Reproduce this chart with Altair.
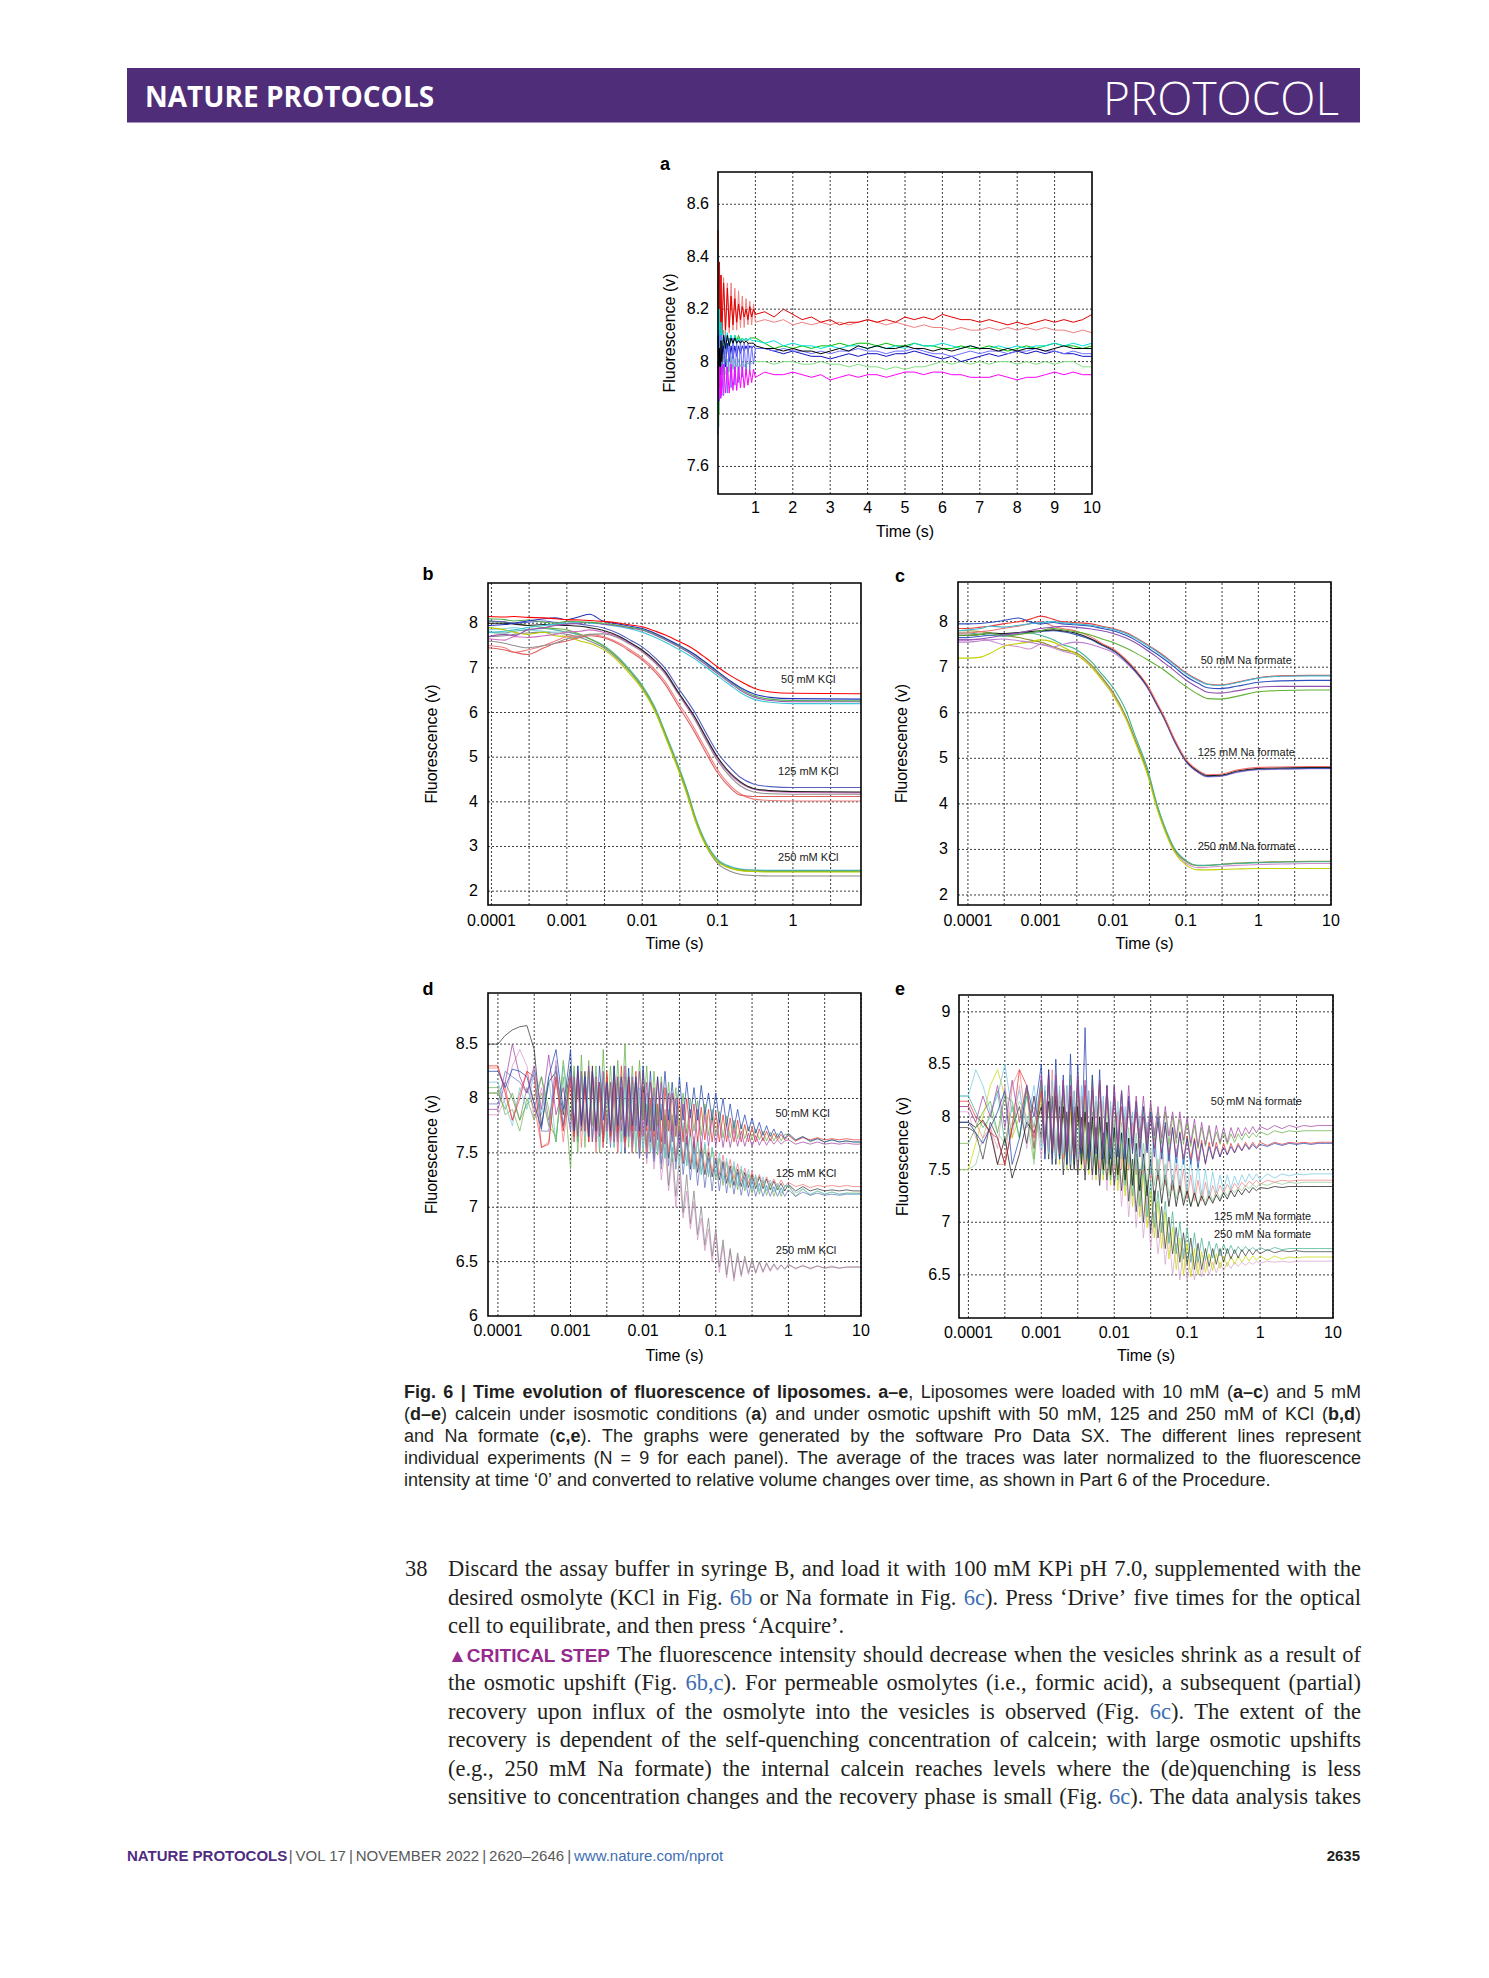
import math
import altair as alt
import pandas as pd

OFF = 8  # page margin: view origin sits at page (8, 8)
SANS = "Liberation Sans, Arial, Helvetica, sans-serif"
SERIF = "Liberation Serif, Times New Roman, serif"
HEAD = "Open Sans, Liberation Sans, sans-serif"

# ======================= panel a (isosmotic, linear time) =======================
TA = [0, 0.02, 0.04, 0.06, 0.08, 0.1, 0.15, 0.2, 0.25, 0.3, 0.35, 0.4, 0.45, 0.5, 0.55, 0.6, 0.65, 0.7, 0.75, 0.8, 0.85, 0.9, 0.95, 1.0,
      1.25, 1.5, 1.75, 2.0, 2.25, 2.5, 2.75, 3.0, 3.25, 3.5, 3.75, 4.0, 4.25, 4.5, 4.75, 5.0, 5.25, 5.5, 5.75, 6.0,
      6.25, 6.5, 6.75, 7.0, 7.25, 7.5, 7.75, 8.0, 8.25, 8.5, 8.75, 9.0, 9.25, 9.5, 9.75, 10.0]
A_SALMON = [8.3, 8.0, 8.35, 8.1, 8.33, 8.1, 8.32, 8.1, 8.3, 8.11, 8.3, 8.12, 8.28, 8.12, 8.27, 8.13, 8.25, 8.13, 8.24, 8.14, 8.23, 8.14, 8.22, 8.15,
            8.16, 8.15, 8.16, 8.14, 8.15, 8.14, 8.15, 8.14, 8.15, 8.14, 8.15, 8.16, 8.15, 8.14, 8.15, 8.14, 8.13, 8.14, 8.13, 8.13,
            8.12, 8.13, 8.12, 8.12, 8.13, 8.12, 8.13, 8.12, 8.13, 8.12, 8.13, 8.12, 8.12, 8.11, 8.12, 8.11]
A_RED = [8.5, 7.95, 8.38, 8.05, 8.33, 8.1, 8.3, 8.12, 8.28, 8.13, 8.25, 8.14, 8.24, 8.15, 8.22, 8.16, 8.21, 8.17, 8.2, 8.16, 8.21, 8.17, 8.2, 8.18,
         8.19, 8.17, 8.2, 8.18, 8.16, 8.17, 8.15, 8.16, 8.14, 8.15, 8.15, 8.16, 8.15, 8.16, 8.15, 8.17, 8.16, 8.17, 8.16, 8.18,
         8.17, 8.16, 8.16, 8.15, 8.16, 8.15, 8.14, 8.15, 8.14, 8.15, 8.16, 8.15, 8.16, 8.15, 8.16, 8.18]
A_LGREEN = [7.95, 7.75, 8.02, 7.9, 8.0, 7.93, 8.02, 7.95, 8.01, 7.96, 8.02, 7.97, 8.01, 7.98, 8.01, 7.98, 8.0, 7.98, 8.0, 7.99, 8.0, 7.99, 8.0, 8.0,
            8.0, 7.99, 8.0, 8.0, 7.99, 7.99, 8.0, 7.99, 7.99, 7.98, 7.99, 7.98, 7.98, 7.97, 7.98, 7.97, 7.98, 7.98, 7.99, 8.0,
            7.99, 8.0, 7.99, 8.0, 7.99, 8.0, 8.0, 7.99, 8.0, 7.99, 8.0, 7.99, 8.0, 8.0, 7.98, 7.98]
A_GREEN = [8.3, 7.8, 8.15, 7.95, 8.12, 8.0, 8.1, 8.04, 8.1, 8.06, 8.1, 8.07, 8.1, 8.08, 8.1, 8.08, 8.09, 8.08, 8.09, 8.08, 8.09, 8.09, 8.09, 8.09,
           8.07, 8.05, 8.06, 8.05, 8.06, 8.05, 8.06, 8.06, 8.07, 8.06, 8.07, 8.07, 8.06, 8.07, 8.06, 8.06, 8.07, 8.06, 8.06, 8.05,
           8.05, 8.06, 8.05, 8.05, 8.06, 8.05, 8.04, 8.05, 8.06, 8.05, 8.06, 8.07, 8.06, 8.06, 8.05, 8.06]
A_CYAN = [8.42, 7.85, 8.2, 7.95, 8.15, 8.0, 8.12, 8.03, 8.11, 8.05, 8.1, 8.06, 8.1, 8.07, 8.09, 8.07, 8.09, 8.08, 8.09, 8.08, 8.09, 8.08, 8.08, 8.08,
          8.07, 8.08, 8.06, 8.07, 8.06, 8.06, 8.05, 8.06, 8.05, 8.06, 8.06, 8.05, 8.06, 8.05, 8.06, 8.05, 8.07, 8.06, 8.06, 8.07,
          8.06, 8.05, 8.06, 8.05, 8.05, 8.06, 8.05, 8.06, 8.05, 8.06, 8.06, 8.07, 8.06, 8.07, 8.06, 8.07]
A_BLUE = [8.0, 7.85, 8.05, 7.9, 8.05, 7.95, 8.06, 7.98, 8.07, 8.0, 8.06, 8.01, 8.06, 8.02, 8.06, 8.03, 8.06, 8.04, 8.06, 8.04, 8.06, 8.05, 8.06, 8.05,
          8.05, 8.04, 8.03, 8.04, 8.03, 8.02, 8.02, 8.01, 8.02, 8.03, 8.02, 8.03, 8.03, 8.02, 8.03, 8.03, 8.04, 8.03, 8.02, 8.01,
          8.02, 8.0, 8.01, 8.02, 8.03, 8.02, 8.03, 8.04, 8.03, 8.04, 8.03, 8.04, 8.03, 8.03, 8.02, 8.02]
A_PERI = [7.72, 8.12, 7.85, 8.1, 7.86, 8.1, 7.87, 8.1, 7.88, 8.09, 7.9, 8.09, 7.91, 8.08, 7.92, 8.08, 7.94, 8.07, 7.95, 8.07, 7.97, 8.06, 7.99, 8.05,
          8.05, 8.04, 8.05, 8.04, 8.04, 8.03, 8.04, 8.03, 8.04, 8.04, 8.05, 8.04, 8.04, 8.03, 8.04, 8.04, 8.05, 8.04, 8.03, 8.03,
          8.02, 8.03, 8.04, 8.03, 8.04, 8.04, 8.03, 8.04, 8.04, 8.05, 8.04, 8.04, 8.03, 8.04, 8.03, 8.03]
A_BLACK = [8.1, 7.9, 8.05, 7.95, 8.08, 8.0, 8.1, 8.05, 8.1, 8.06, 8.09, 8.07, 8.09, 8.07, 8.08, 8.07, 8.08, 8.07, 8.08, 8.07, 8.07, 8.07, 8.07, 8.06,
           8.05, 8.05, 8.04, 8.05, 8.04, 8.04, 8.03, 8.04, 8.05, 8.04, 8.06, 8.05, 8.06, 8.05, 8.05, 8.06, 8.05, 8.05, 8.04, 8.05,
           8.04, 8.05, 8.06, 8.05, 8.05, 8.04, 8.05, 8.04, 8.05, 8.05, 8.04, 8.05, 8.06, 8.05, 8.05, 8.05]
A_MAGENTA = [7.9, 7.85, 7.98, 7.86, 7.98, 7.87, 7.99, 7.88, 7.98, 7.88, 7.99, 7.89, 7.98, 7.89, 7.98, 7.9, 7.98, 7.9, 7.97, 7.91, 7.97, 7.92, 7.97, 7.94,
             7.96, 7.95, 7.95, 7.96, 7.95, 7.94, 7.95, 7.93, 7.94, 7.95, 7.94, 7.95, 7.95, 7.94, 7.95, 7.96, 7.96, 7.95, 7.96, 7.96,
             7.95, 7.95, 7.94, 7.94, 7.94, 7.95, 7.94, 7.93, 7.94, 7.94, 7.95, 7.96, 7.95, 7.96, 7.95, 7.95]

# ======================= panel b (KCl, 10 mM calcein) =======================
TB = [0.00009, 0.00015, 0.0002, 0.0003, 0.0005, 0.0007, 0.001, 0.0015, 0.002, 0.003, 0.005, 0.007, 0.01,
      0.015, 0.02, 0.03, 0.04, 0.05, 0.07, 0.1, 0.15, 0.2, 0.3, 0.5, 1, 8]
B250_GRAY = [7.7, 7.72, 7.75, 7.78, 7.8, 7.78, 7.75, 7.68, 7.6, 7.46, 7.16, 6.9, 6.56, 6.04, 5.52, 4.76, 4.16, 3.62, 3.02, 2.62, 2.44, 2.38, 2.35, 2.34, 2.34, 2.34]
B250_LCYAN = [7.85, 7.88, 7.9, 7.85, 7.82, 7.8, 7.8, 7.72, 7.65, 7.52, 7.22, 6.95, 6.62, 6.1, 5.58, 4.83, 4.24, 3.7, 3.1, 2.72, 2.55, 2.5, 2.48, 2.47, 2.47, 2.47]
B250_TEAL = [7.8, 7.78, 7.82, 7.85, 7.88, 7.85, 7.8, 7.74, 7.66, 7.5, 7.2, 6.92, 6.6, 6.08, 5.56, 4.8, 4.22, 3.68, 3.08, 2.7, 2.54, 2.49, 2.47, 2.46, 2.46, 2.46]
B250_GREEN = [8.05, 8.02, 8.0, 7.95, 7.9, 7.88, 7.85, 7.75, 7.65, 7.5, 7.19, 6.92, 6.58, 6.06, 5.54, 4.79, 4.2, 3.66, 3.06, 2.68, 2.52, 2.47, 2.45, 2.44, 2.44, 2.44]
B250_YELLOW = [7.9, 7.85, 7.8, 7.75, 7.8, 7.72, 7.7, 7.6, 7.55, 7.42, 7.12, 6.85, 6.52, 6.0, 5.48, 4.72, 4.12, 3.6, 3.02, 2.66, 2.51, 2.46, 2.44, 2.43, 2.43, 2.43]
B125_PINK = [7.5, 7.45, 7.35, 7.4, 7.5, 7.6, 7.7, 7.72, 7.75, 7.7, 7.55, 7.4, 7.22, 6.95, 6.7, 6.22, 5.9, 5.62, 5.18, 4.72, 4.35, 4.18, 4.06, 4.03, 4.02, 4.02]
B125_RED = [7.45, 7.4, 7.35, 7.3, 7.45, 7.55, 7.6, 7.68, 7.72, 7.68, 7.52, 7.36, 7.18, 6.9, 6.64, 6.15, 5.82, 5.55, 5.1, 4.65, 4.3, 4.15, 4.12, 4.12, 4.12, 4.12]
B125_GRAY = [7.6, 7.55, 7.5, 7.45, 7.5, 7.55, 7.65, 7.7, 7.75, 7.76, 7.66, 7.52, 7.36, 7.1, 6.87, 6.42, 6.1, 5.84, 5.38, 4.92, 4.55, 4.36, 4.22, 4.18, 4.17, 4.17]
B125_ORCHID = [7.65, 7.62, 7.7, 7.68, 7.72, 7.75, 7.8, 7.82, 7.85, 7.8, 7.68, 7.54, 7.38, 7.12, 6.9, 6.44, 6.12, 5.87, 5.42, 4.96, 4.6, 4.42, 4.28, 4.23, 4.21, 4.2]
B125_SLATE = [8.05, 8.03, 8.0, 8.02, 8.05, 8.02, 8.0, 7.98, 7.95, 7.9, 7.76, 7.62, 7.47, 7.22, 7.0, 6.55, 6.25, 6.0, 5.55, 5.1, 4.75, 4.55, 4.4, 4.34, 4.32, 4.32]
B125_BLACK = [8.0, 8.0, 7.98, 7.95, 7.97, 7.96, 7.95, 7.93, 7.9, 7.84, 7.7, 7.56, 7.4, 7.15, 6.92, 6.46, 6.15, 5.9, 5.45, 5.0, 4.63, 4.45, 4.3, 4.25, 4.23, 4.22]
B50_CYAN = [7.8, 7.82, 7.85, 7.9, 7.95, 7.98, 8.0, 8.02, 8.0, 7.98, 7.92, 7.87, 7.8, 7.68, 7.58, 7.42, 7.3, 7.2, 7.02, 6.82, 6.6, 6.45, 6.3, 6.23, 6.2, 6.2]
B50_PURPLE = [7.7, 7.75, 7.72, 7.85, 7.9, 7.95, 7.98, 8.0, 8.02, 7.98, 7.94, 7.89, 7.84, 7.73, 7.63, 7.48, 7.36, 7.25, 7.07, 6.87, 6.65, 6.5, 6.35, 6.27, 6.24, 6.24]
B50_GREEN = [8.1, 8.08, 8.05, 8.07, 8.02, 8.0, 8.04, 8.03, 8.02, 8.0, 7.95, 7.9, 7.86, 7.75, 7.65, 7.5, 7.38, 7.28, 7.1, 6.9, 6.68, 6.53, 6.38, 6.3, 6.27, 6.26]
B50_BLUE = [7.95, 7.97, 8.0, 8.05, 8.1, 8.12, 8.08, 8.15, 8.2, 8.05, 7.98, 7.93, 7.88, 7.77, 7.67, 7.52, 7.4, 7.3, 7.12, 6.92, 6.7, 6.56, 6.42, 6.34, 6.31, 6.3]
B50_RED = [8.15, 8.14, 8.15, 8.13, 8.12, 8.1, 8.08, 8.07, 8.06, 8.04, 8.0, 7.96, 7.92, 7.82, 7.74, 7.6, 7.5, 7.4, 7.22, 7.02, 6.82, 6.7, 6.55, 6.46, 6.43, 6.42]

# ======================= panel c (Na formate, 10 mM calcein) =======================
TC = [0.000073, 0.0001, 0.00015, 0.0002, 0.0003, 0.0005, 0.0007, 0.001, 0.0015, 0.002, 0.003, 0.005, 0.007, 0.01, 0.015,
      0.02, 0.03, 0.04, 0.05, 0.07, 0.1, 0.15, 0.2, 0.3, 0.5, 1, 2, 5, 10]
C250_PV = [7.6, 7.6, 7.62, 7.58, 7.5, 7.45, 7.4, 7.5, 7.42, 7.35, 7.28, 7.02, 6.75, 6.42, 5.9, 5.4, 4.66, 3.93, 3.48, 2.97, 2.7, 2.6, 2.61, 2.63, 2.65, 2.67, 2.68, 2.69, 2.69]
C250_OLIVE = [7.8, 7.8, 7.78, 7.75, 7.7, 7.65, 7.6, 7.55, 7.45, 7.38, 7.32, 7.05, 6.78, 6.45, 5.92, 5.42, 4.68, 3.95, 3.5, 2.99, 2.74, 2.64, 2.65, 2.67, 2.7, 2.72, 2.73, 2.74, 2.74]
C250_TEAL = [7.75, 7.75, 7.72, 7.7, 7.68, 7.72, 7.75, 7.7, 7.6, 7.5, 7.4, 7.12, 6.85, 6.55, 6.05, 5.5, 4.75, 4.0, 3.55, 3.02, 2.76, 2.65, 2.65, 2.67, 2.69, 2.71, 2.72, 2.73, 2.73]
C250_YELLOW = [7.2, 7.2, 7.22, 7.3, 7.45, 7.52, 7.55, 7.6, 7.55, 7.45, 7.3, 7.0, 6.72, 6.38, 5.86, 5.36, 4.62, 3.9, 3.46, 2.94, 2.66, 2.55, 2.55, 2.56, 2.57, 2.58, 2.58, 2.58, 2.58]
C125_VIOLET = [7.55, 7.55, 7.58, 7.6, 7.62, 7.58, 7.55, 7.5, 7.45, 7.5, 7.55, 7.5, 7.42, 7.32, 7.1, 6.9, 6.53, 6.16, 5.87, 5.36, 4.93, 4.68, 4.59, 4.6, 4.69, 4.75, 4.76, 4.77, 4.77]
C125_BLUE = [7.65, 7.65, 7.68, 7.7, 7.72, 7.75, 7.76, 7.78, 7.8, 7.78, 7.72, 7.6, 7.48, 7.36, 7.13, 6.92, 6.55, 6.18, 5.89, 5.38, 4.94, 4.69, 4.6, 4.61, 4.7, 4.76, 4.77, 4.78, 4.78]
C125_BLACK = [7.7, 7.7, 7.72, 7.75, 7.74, 7.76, 7.78, 7.8, 7.82, 7.8, 7.75, 7.62, 7.5, 7.38, 7.15, 6.94, 6.57, 6.2, 5.91, 5.4, 4.96, 4.71, 4.62, 4.63, 4.72, 4.78, 4.79, 4.8, 4.8]
C125_PINK = [7.75, 7.75, 7.78, 7.8, 7.85, 7.9, 7.95, 8.0, 7.9, 7.85, 7.8, 7.66, 7.52, 7.4, 7.17, 6.96, 6.59, 6.22, 5.93, 5.42, 4.98, 4.73, 4.64, 4.65, 4.74, 4.8, 4.81, 4.82, 4.82]
C50_GREEN = [7.7, 7.7, 7.72, 7.75, 7.7, 7.72, 7.75, 7.8, 7.85, 7.82, 7.78, 7.7, 7.62, 7.54, 7.42, 7.32, 7.16, 7.04, 6.94, 6.76, 6.58, 6.4, 6.31, 6.3, 6.36, 6.46, 6.49, 6.5, 6.5]
C50_PURPLE = [7.6, 7.6, 7.62, 7.65, 7.7, 7.75, 7.8, 7.85, 7.88, 7.9, 7.88, 7.84, 7.8, 7.74, 7.64, 7.54, 7.36, 7.22, 7.1, 6.92, 6.72, 6.55, 6.45, 6.43, 6.48, 6.56, 6.58, 6.58, 6.58]
C50_BLUE = [7.95, 7.95, 7.96, 7.98, 8.02, 8.08, 8.0, 7.95, 7.98, 7.95, 7.93, 7.9, 7.85, 7.8, 7.7, 7.6, 7.42, 7.29, 7.18, 7.0, 6.8, 6.64, 6.55, 6.53, 6.58, 6.67, 6.7, 6.71, 6.71]
C50_RED = [7.85, 7.85, 7.88, 7.9, 7.95, 8.0, 8.05, 8.12, 8.05, 8.0, 7.98, 7.95, 7.9, 7.85, 7.76, 7.66, 7.49, 7.36, 7.25, 7.07, 6.88, 6.72, 6.63, 6.61, 6.67, 6.77, 6.81, 6.82, 6.82]
C50_CYAN = [7.8, 7.82, 7.85, 7.9, 7.88, 7.92, 7.95, 7.98, 8.0, 7.98, 7.95, 7.92, 7.88, 7.83, 7.74, 7.64, 7.47, 7.34, 7.23, 7.05, 6.86, 6.7, 6.62, 6.6, 6.66, 6.76, 6.8, 6.81, 6.81]

# ======================= panels d, e (5 mM calcein, noisy) =======================
TD = [0.000073, 0.0001, 0.000126, 0.000158, 0.0002, 0.000251, 0.000316, 0.000398, 0.000501, 0.000631, 0.000794,
      0.001, 0.00112, 0.00126, 0.00141, 0.00158, 0.00178, 0.002, 0.00224, 0.00251, 0.00282,
      0.00316, 0.00355, 0.00398, 0.00447, 0.00501, 0.00562, 0.00631, 0.00708, 0.00794, 0.00891,
      0.01, 0.0112, 0.0126, 0.0141, 0.0158, 0.0178, 0.02, 0.0224, 0.0251, 0.0282,
      0.0316, 0.0355, 0.0398, 0.0447, 0.0501, 0.0562, 0.0631, 0.0708, 0.0794, 0.0891,
      0.1, 0.112, 0.126, 0.141, 0.158, 0.178, 0.2, 0.224, 0.251, 0.282,
      0.316, 0.355, 0.398, 0.447, 0.501, 0.562, 0.631, 0.708, 0.794, 0.891,
      1, 1.26, 1.58, 2, 2.51, 3.16, 3.98, 5.01, 6.31, 7.94, 10]
TE = [0.0000743] + TD[1:]

D250_PINK = ([7.85, 7.85, 8.0, 8.3, 8.45, 8.3, 7.8, 8.1, 7.75, 8.35, 7.7]
             + [8.25, 7.65, 8.2, 7.7, 8.15, 7.6, 8.2, 7.65, 8.1, 7.55, 8.15, 7.6, 8.05, 7.5, 8.0, 7.55, 7.95, 7.5, 7.95, 7.45]
             + [7.9, 7.4, 7.8, 7.35, 7.7, 7.25, 7.55, 7.15, 7.45, 7.0, 7.3, 6.9, 7.15, 6.8, 7.05, 6.7, 6.9, 6.6, 6.8, 6.5]
             + [6.75, 6.4, 6.65, 6.35, 6.6, 6.32, 6.55, 6.36, 6.52, 6.38, 6.5, 6.39, 6.49, 6.4, 6.48, 6.41, 6.47, 6.42, 6.47, 6.43]
             + [6.48, 6.43, 6.47, 6.43, 6.46, 6.44, 6.46, 6.44, 6.45, 6.45, 6.45])
D250_GRAY = ([8.05, 8.05, 8.15, 8.0, 7.8, 8.1, 7.9, 8.2, 7.8, 8.15, 7.75]
             + [8.2, 7.7, 8.15, 7.75, 8.2, 7.65, 8.1, 7.7, 8.15, 7.6, 8.1, 7.65, 8.05, 7.6, 8.05, 7.55, 8.0, 7.55, 7.95, 7.5]
             + [8.0, 7.5, 7.9, 7.45, 7.8, 7.35, 7.7, 7.2, 7.55, 7.1, 7.45, 6.95, 7.3, 6.85, 7.15, 6.75, 7.0, 6.65, 6.9, 6.55]
             + [6.8, 6.45, 6.7, 6.38, 6.62, 6.35, 6.58, 6.38, 6.55, 6.4, 6.52, 6.4, 6.5, 6.41, 6.49, 6.42, 6.48, 6.43, 6.47, 6.43]
             + [6.47, 6.44, 6.46, 6.44, 6.46, 6.44, 6.45, 6.44, 6.45, 6.45, 6.45])
D_BLACK = ([8.5, 8.5, 8.58, 8.63, 8.66, 8.67, 8.45, 7.75, 8.15, 8.25, 7.85]
           + [8.3, 7.7, 8.1, 7.8, 8.25, 7.7, 8.3, 7.6, 8.1, 7.55, 8.2, 7.6, 8.3, 7.65, 8.1, 7.5, 8.2, 7.6, 8.15, 7.55]
           + [8.1, 7.55, 8.0, 7.5, 7.95, 7.5, 7.85, 7.45, 7.8, 7.42, 7.75, 7.4, 7.65, 7.35, 7.6, 7.32, 7.55, 7.3, 7.5, 7.28]
           + [7.45, 7.25, 7.42, 7.22, 7.38, 7.2, 7.35, 7.19, 7.32, 7.18, 7.3, 7.17, 7.28, 7.17, 7.26, 7.16, 7.24, 7.16, 7.22, 7.15]
           + [7.21, 7.15, 7.19, 7.15, 7.17, 7.15, 7.16, 7.15, 7.16, 7.15, 7.15])
D125_GREEN = ([8.1, 8.1, 7.85, 7.9, 7.7, 8.0, 7.8, 8.05, 7.75, 7.65, 8.2]
              + [7.35, 8.1, 7.5, 8.2, 7.55, 8.25, 7.6, 8.1, 7.5, 8.15, 7.6, 8.1, 7.55, 8.15, 7.6, 8.2, 7.55, 8.1, 7.5, 8.05]
              + [7.5, 7.95, 7.5, 7.95, 7.48, 7.9, 7.45, 7.85, 7.42, 7.8, 7.4, 7.75, 7.38, 7.7, 7.35, 7.62, 7.3, 7.58, 7.28, 7.55]
              + [7.25, 7.45, 7.2, 7.42, 7.18, 7.38, 7.16, 7.35, 7.15, 7.3, 7.13, 7.28, 7.12, 7.25, 7.11, 7.22, 7.1, 7.2, 7.1, 7.19]
              + [7.2, 7.1, 7.17, 7.11, 7.15, 7.12, 7.14, 7.12, 7.13, 7.13, 7.13])
D125_BLUE = ([7.95, 7.95, 8.25, 8.2, 8.15, 8.05, 8.25, 7.7, 7.7, 8.3, 7.75]
             + [8.25, 7.6, 8.3, 7.7, 8.2, 7.65, 8.25, 7.6, 8.15, 7.6, 8.2, 7.55, 8.15, 7.6, 8.1, 7.5, 8.1, 7.5, 8.05, 7.45]
             + [8.05, 7.45, 7.95, 7.42, 7.9, 7.4, 7.8, 7.38, 7.75, 7.35, 7.7, 7.3, 7.6, 7.25, 7.55, 7.2, 7.5, 7.18, 7.45, 7.15]
             + [7.45, 7.15, 7.4, 7.13, 7.35, 7.12, 7.32, 7.11, 7.28, 7.1, 7.25, 7.1, 7.22, 7.1, 7.2, 7.1, 7.19, 7.1, 7.18, 7.1]
             + [7.16, 7.1, 7.14, 7.11, 7.13, 7.11, 7.12, 7.11, 7.12, 7.12, 7.12])
D125_RED = ([8.28, 8.28, 8.1, 7.8, 8.05, 8.25, 7.95, 7.55, 7.6, 8.2, 7.6]
            + [8.15, 7.6, 8.2, 7.55, 8.15, 7.6, 8.2, 7.5, 8.1, 7.55, 8.2, 7.6, 8.15, 7.5, 8.1, 7.55, 8.15, 7.5, 8.05, 7.55]
            + [8.05, 7.5, 8.0, 7.55, 7.95, 7.5, 7.9, 7.5, 7.85, 7.45, 7.8, 7.42, 7.72, 7.4, 7.65, 7.38, 7.6, 7.35, 7.55, 7.32]
            + [7.52, 7.3, 7.48, 7.28, 7.44, 7.26, 7.4, 7.24, 7.36, 7.22, 7.33, 7.21, 7.3, 7.2, 7.28, 7.2, 7.26, 7.19, 7.25, 7.19]
            + [7.23, 7.19, 7.21, 7.18, 7.2, 7.19, 7.2, 7.19, 7.2, 7.19, 7.19])
D125_CYAN = ([8.15, 8.15, 7.95, 7.75, 8.1, 7.9, 8.25, 7.85, 8.2, 7.6, 8.3]
             + [7.7, 8.25, 7.6, 8.2, 7.65, 8.2, 7.6, 8.15, 7.55, 8.2, 7.6, 8.15, 7.55, 8.2, 7.5, 8.1, 7.6, 8.15, 7.55, 8.1]
             + [7.55, 8.05, 7.5, 8.0, 7.5, 7.95, 7.45, 7.9, 7.45, 7.85, 7.4, 7.78, 7.38, 7.72, 7.35, 7.65, 7.3, 7.6, 7.3, 7.55]
             + [7.3, 7.5, 7.25, 7.45, 7.22, 7.42, 7.2, 7.38, 7.18, 7.35, 7.16, 7.3, 7.15, 7.28, 7.15, 7.25, 7.14, 7.22, 7.13, 7.2]
             + [7.2, 7.13, 7.17, 7.12, 7.15, 7.12, 7.14, 7.12, 7.13, 7.12, 7.13])
D50_GREEN = ([8.05, 8.05, 7.9, 8.05, 7.8, 7.95, 8.0, 8.2, 7.9, 7.6, 8.35]
             + [7.8, 8.3, 7.6, 8.4, 7.7, 8.35, 7.75, 8.3, 7.7, 8.45, 7.75, 8.3, 7.7, 8.35, 7.8, 8.5, 7.7, 8.3, 7.75, 8.35]
             + [7.8, 8.3, 7.7, 8.25, 7.75, 8.2, 7.7, 8.15, 7.75, 8.1, 7.7, 8.05, 7.68, 8.0, 7.7, 7.98, 7.66, 7.95, 7.66, 7.9]
             + [7.66, 7.88, 7.64, 7.84, 7.64, 7.8, 7.63, 7.76, 7.63, 7.74, 7.62, 7.72, 7.62, 7.7, 7.61, 7.69, 7.61, 7.68, 7.61, 7.67]
             + [7.67, 7.61, 7.65, 7.6, 7.63, 7.6, 7.62, 7.6, 7.61, 7.6, 7.6])
D50_RED = ([8.3, 8.3, 8.05, 7.8, 8.0, 8.25, 8.2, 7.55, 7.58, 8.2, 7.7]
           + [8.2, 7.65, 8.25, 7.75, 8.1, 7.6, 8.25, 7.7, 8.15, 7.6, 8.25, 7.65, 8.2, 7.7, 8.3, 7.6, 8.2, 7.7, 8.25, 7.65]
           + [8.25, 7.7, 8.15, 7.65, 8.2, 7.6, 8.1, 7.7, 8.05, 7.65, 8.0, 7.6, 8.0, 7.65, 7.95, 7.6, 7.92, 7.62, 7.9, 7.6]
           + [7.88, 7.6, 7.85, 7.6, 7.82, 7.6, 7.8, 7.6, 7.76, 7.6, 7.74, 7.6, 7.72, 7.61, 7.7, 7.61, 7.68, 7.62, 7.67, 7.62]
           + [7.66, 7.61, 7.64, 7.62, 7.64, 7.62, 7.63, 7.62, 7.63, 7.62, 7.62])
D50_PURPLE = ([7.9, 7.9, 8.15, 8.5, 8.2, 8.05, 8.3, 7.9, 8.4, 7.85, 8.1]
              + [7.7, 8.2, 7.65, 8.25, 7.7, 8.3, 7.6, 8.2, 7.65, 8.25, 7.7, 8.15, 7.6, 8.2, 7.7, 8.3, 7.65, 8.2, 7.7, 8.25]
              + [7.65, 8.15, 7.6, 8.1, 7.62, 8.15, 7.58, 8.05, 7.6, 8.0, 7.55, 7.95, 7.58, 7.9, 7.55, 7.9, 7.55, 7.85, 7.56, 7.82]
              + [7.56, 7.8, 7.55, 7.76, 7.55, 7.72, 7.56, 7.7, 7.56, 7.68, 7.56, 7.66, 7.57, 7.64, 7.57, 7.63, 7.58, 7.62, 7.58, 7.61]
              + [7.62, 7.58, 7.6, 7.58, 7.6, 7.58, 7.59, 7.58, 7.59, 7.58, 7.58])
D50_BLUE = ([8.25, 8.25, 8.1, 8.27, 8.25, 8.2, 7.95, 7.72, 8.2, 8.45, 7.9]
            + [8.45, 7.7, 8.3, 7.75, 8.2, 7.65, 8.25, 7.7, 8.3, 7.8, 8.15, 7.7, 8.3, 7.75, 8.2, 7.65, 8.28, 7.75, 8.2, 7.7]
            + [8.3, 7.75, 8.25, 7.7, 8.2, 7.8, 8.25, 7.8, 8.15, 7.75, 8.2, 7.8, 8.15, 7.82, 8.1, 7.8, 8.12, 7.85, 8.05, 7.8]
            + [8.05, 7.78, 8.0, 7.75, 7.95, 7.72, 7.9, 7.72, 7.85, 7.7, 7.82, 7.68, 7.78, 7.66, 7.75, 7.65, 7.72, 7.64, 7.7, 7.63]
            + [7.68, 7.62, 7.65, 7.61, 7.63, 7.6, 7.62, 7.6, 7.61, 7.6, 7.6])

E250_PINK = ([8.05, 8.05, 7.8, 7.75, 7.9, 7.7, 8.3, 7.8, 8.3, 7.7, 8.2]
             + [7.6, 8.1, 7.65, 8.2, 7.55, 8.15, 7.6, 8.05, 7.5, 8.05, 7.45, 8.0, 7.45, 7.95, 7.4, 7.9, 7.35, 7.85, 7.3, 7.8]
             + [7.3, 7.7, 7.15, 7.6, 7.05, 7.5, 6.95, 7.35, 6.85, 7.25, 6.75, 7.1, 6.7, 7.0, 6.6, 6.9, 6.5, 6.8, 6.45, 6.75]
             + [6.45, 6.7, 6.45, 6.65, 6.48, 6.65, 6.5, 6.62, 6.52, 6.62, 6.54, 6.62, 6.56, 6.62, 6.58, 6.62, 6.59, 6.62, 6.6, 6.63]
             + [6.61, 6.63, 6.62, 6.63, 6.62, 6.63, 6.63, 6.63, 6.63, 6.63, 6.63])
E250_YELLOW = ([7.5, 7.5, 7.75, 8.0, 8.3, 8.45, 8.2, 7.8, 8.0, 8.3, 7.7]
               + [8.2, 7.7, 8.3, 7.6, 8.25, 7.55, 8.15, 7.5, 8.05, 7.55, 8.1, 7.5, 8.0, 7.45, 7.95, 7.4, 7.9, 7.4, 7.85, 7.35]
               + [7.85, 7.3, 7.75, 7.25, 7.7, 7.15, 7.6, 7.05, 7.45, 6.95, 7.3, 6.85, 7.2, 6.75, 7.1, 6.65, 6.95, 6.55, 6.85, 6.5]
               + [6.8, 6.48, 6.75, 6.5, 6.72, 6.52, 6.7, 6.54, 6.7, 6.56, 6.68, 6.58, 6.68, 6.6, 6.68, 6.62, 6.68, 6.63, 6.68, 6.64]
               + [6.68, 6.64, 6.68, 6.65, 6.67, 6.66, 6.67, 6.67, 6.67, 6.67, 6.67])
E250_TEAL = ([8.2, 8.2, 8.05, 7.9, 8.0, 8.25, 7.75, 8.1, 7.8, 8.2, 7.9]
             + [8.35, 7.65, 8.4, 7.7, 8.3, 7.6, 8.25, 7.6, 8.2, 7.55, 8.15, 7.6, 8.1, 7.5, 8.05, 7.45, 8.0, 7.45, 7.95, 7.4]
             + [7.95, 7.4, 7.85, 7.35, 7.8, 7.25, 7.65, 7.15, 7.55, 7.05, 7.4, 6.95, 7.3, 6.9, 7.2, 6.8, 7.1, 6.7, 7.0, 6.65]
             + [6.95, 6.62, 6.9, 6.62, 6.85, 6.64, 6.82, 6.66, 6.8, 6.68, 6.79, 6.7, 6.78, 6.7, 6.77, 6.72, 6.77, 6.73, 6.76, 6.73]
             + [6.76, 6.73, 6.76, 6.74, 6.75, 6.75, 6.75, 6.75, 6.75, 6.75, 6.75])
E250_DARK = ([7.9, 7.9, 7.85, 7.6, 7.95, 7.8, 7.55, 7.9, 8.1, 7.75, 8.2]
             + [7.8, 8.25, 7.6, 8.2, 7.55, 8.1, 7.45, 8.05, 7.5, 8.1, 7.45, 8.0, 7.4, 7.95, 7.45, 7.9, 7.35, 7.85, 7.4, 7.8]
             + [7.35, 7.75, 7.3, 7.7, 7.2, 7.6, 7.1, 7.5, 7.0, 7.4, 6.9, 7.3, 6.85, 7.15, 6.75, 7.05, 6.7, 6.95, 6.62, 6.9]
             + [6.6, 6.85, 6.55, 6.8, 6.55, 6.75, 6.58, 6.75, 6.6, 6.75, 6.62, 6.75, 6.65, 6.74, 6.66, 6.74, 6.68, 6.74, 6.69, 6.74]
             + [6.7, 6.74, 6.71, 6.73, 6.72, 6.73, 6.72, 6.72, 6.72, 6.72, 6.72])
E125_LGREEN = ([7.5, 7.5, 7.55, 7.8, 8.05, 7.85, 7.75, 7.95, 8.15, 8.0, 7.55]
               + [8.3, 7.6, 8.4, 7.55, 8.3, 7.6, 8.35, 7.5, 8.2, 7.55, 8.25, 7.55, 8.15, 7.5, 8.2, 7.55, 8.15, 7.5, 8.1, 7.5]
               + [8.0, 7.45, 7.95, 7.45, 7.9, 7.4, 7.85, 7.4, 7.75, 7.35, 7.7, 7.35, 7.6, 7.3, 7.55, 7.25, 7.45, 7.22, 7.4, 7.2]
               + [7.35, 7.15, 7.32, 7.15, 7.3, 7.18, 7.3, 7.2, 7.3, 7.22, 7.31, 7.25, 7.32, 7.28, 7.33, 7.3, 7.35, 7.32, 7.36, 7.33]
               + [7.37, 7.35, 7.38, 7.36, 7.38, 7.37, 7.38, 7.38, 7.38, 7.38, 7.38])
E125_PINK = ([8.1, 8.1, 7.95, 7.8, 7.9, 7.55, 7.55, 8.3, 8.45, 7.9, 8.1]
             + [7.75, 8.2, 7.7, 8.45, 7.65, 8.25, 7.6, 8.3, 7.6, 8.25, 7.6, 8.2, 7.55, 8.25, 7.55, 8.15, 7.5, 8.15, 7.55, 8.1]
             + [7.5, 8.05, 7.5, 8.0, 7.5, 7.95, 7.45, 7.9, 7.45, 7.85, 7.4, 7.8, 7.4, 7.7, 7.35, 7.65, 7.3, 7.55, 7.28, 7.5]
             + [7.22, 7.45, 7.2, 7.4, 7.2, 7.38, 7.22, 7.35, 7.25, 7.35, 7.28, 7.36, 7.3, 7.37, 7.32, 7.38, 7.34, 7.39, 7.36, 7.4]
             + [7.36, 7.4, 7.38, 7.4, 7.39, 7.4, 7.4, 7.4, 7.4, 7.4, 7.4])
E125_BLACK = ([7.95, 7.95, 7.9, 7.97, 7.85, 7.55, 7.8, 7.42, 7.65, 7.95, 7.85]
              + [8.1, 7.7, 8.15, 7.65, 8.2, 7.6, 8.1, 7.55, 8.2, 7.5, 8.1, 7.55, 8.05, 7.5, 8.0, 7.45, 8.0, 7.5, 7.95, 7.45]
              + [7.9, 7.45, 7.85, 7.4, 7.8, 7.35, 7.75, 7.3, 7.65, 7.25, 7.6, 7.2, 7.5, 7.18, 7.45, 7.15, 7.4, 7.15, 7.35, 7.16]
              + [7.3, 7.15, 7.28, 7.15, 7.25, 7.16, 7.25, 7.18, 7.26, 7.2, 7.28, 7.22, 7.3, 7.24, 7.31, 7.26, 7.32, 7.28, 7.33, 7.3]
              + [7.33, 7.32, 7.34, 7.33, 7.34, 7.34, 7.34, 7.34, 7.34, 7.34, 7.34])
E125_CYAN = ([8.2, 8.2, 8.45, 8.3, 8.05, 8.2, 8.5, 8.05, 8.25, 7.9, 8.3]
             + [7.7, 8.3, 7.65, 8.35, 7.6, 8.3, 7.65, 8.3, 7.55, 8.25, 7.6, 8.3, 7.6, 8.25, 7.55, 8.2, 7.6, 8.2, 7.55, 8.15]
             + [7.55, 8.15, 7.6, 8.1, 7.55, 8.05, 7.5, 8.0, 7.5, 7.95, 7.45, 7.9, 7.45, 7.8, 7.4, 7.75, 7.35, 7.7, 7.35, 7.65]
             + [7.3, 7.6, 7.28, 7.55, 7.25, 7.5, 7.25, 7.48, 7.28, 7.45, 7.3, 7.45, 7.32, 7.44, 7.35, 7.45, 7.38, 7.46, 7.4, 7.46]
             + [7.4, 7.46, 7.42, 7.46, 7.44, 7.46, 7.45, 7.46, 7.46, 7.46, 7.46])
E50_GREEN = ([7.75, 7.75, 7.9, 8.05, 8.15, 7.85, 8.2, 8.15, 7.8, 8.25, 7.6]
             + [8.35, 7.7, 8.3, 7.65, 8.35, 7.7, 8.3, 7.6, 8.4, 7.65, 8.35, 7.7, 8.3, 7.6, 8.4, 7.7, 8.35, 7.65, 8.3, 7.7]
             + [8.2, 7.75, 8.25, 7.7, 8.15, 7.75, 8.15, 7.72, 8.1, 7.75, 8.1, 7.78, 8.05, 7.75, 8.05, 7.74, 8.0, 7.75, 7.98, 7.74]
             + [7.95, 7.72, 7.92, 7.7, 7.9, 7.72, 7.88, 7.72, 7.86, 7.74, 7.85, 7.74, 7.84, 7.76, 7.84, 7.78, 7.85, 7.8, 7.85, 7.81]
             + [7.86, 7.83, 7.87, 7.85, 7.87, 7.86, 7.87, 7.87, 7.87, 7.87, 7.87])
E50_RED = ([8.15, 8.15, 8.0, 7.95, 7.85, 7.8, 7.55, 7.9, 8.45, 8.3, 7.8]
           + [8.25, 7.65, 8.45, 7.6, 8.3, 7.7, 8.35, 7.65, 8.3, 7.6, 8.35, 7.7, 8.3, 7.65, 8.25, 7.7, 8.3, 7.65, 8.2, 7.7]
           + [8.2, 7.7, 8.1, 7.7, 8.15, 7.68, 8.05, 7.7, 8.0, 7.68, 8.0, 7.7, 7.95, 7.66, 7.92, 7.64, 7.9, 7.62, 7.86, 7.6]
           + [7.82, 7.6, 7.8, 7.58, 7.78, 7.55, 7.76, 7.6, 7.76, 7.62, 7.75, 7.64, 7.75, 7.66, 7.75, 7.68, 7.76, 7.7, 7.76, 7.71]
           + [7.76, 7.73, 7.76, 7.74, 7.76, 7.75, 7.76, 7.75, 7.76, 7.76, 7.76])
E50_BLUE = ([7.95, 7.95, 7.85, 7.75, 7.9, 8.05, 8.25, 7.55, 7.8, 8.3, 8.0]
            + [8.5, 7.6, 8.45, 7.55, 8.55, 7.6, 8.4, 7.55, 8.6, 7.6, 8.5, 7.65, 8.85, 7.6, 8.4, 7.65, 8.45, 7.6, 8.3, 7.6]
            + [8.3, 7.62, 8.25, 7.6, 8.2, 7.65, 8.15, 7.62, 8.1, 7.66, 8.05, 7.62, 8.0, 7.6, 7.95, 7.58, 7.9, 7.56, 7.85, 7.55]
            + [7.8, 7.55, 7.78, 7.52, 7.75, 7.56, 7.72, 7.6, 7.72, 7.62, 7.71, 7.64, 7.72, 7.66, 7.73, 7.68, 7.74, 7.69, 7.74, 7.7]
            + [7.74, 7.72, 7.75, 7.73, 7.75, 7.74, 7.75, 7.74, 7.75, 7.75, 7.75])
E50_PURPLE = ([8.1, 8.1, 7.95, 8.2, 8.0, 8.3, 7.9, 8.35, 7.95, 8.3, 7.7]
              + [8.4, 7.75, 8.35, 7.7, 8.4, 7.65, 8.35, 7.7, 8.3, 7.65, 8.4, 7.7, 8.35, 7.75, 8.3, 7.7, 8.35, 7.75, 8.3, 7.7]
              + [8.3, 7.75, 8.25, 7.8, 8.3, 7.75, 8.2, 7.8, 8.2, 7.8, 8.15, 7.82, 8.1, 7.8, 8.1, 7.82, 8.05, 7.8, 8.05, 7.78]
              + [8.0, 7.75, 7.98, 7.72, 7.95, 7.74, 7.92, 7.72, 7.92, 7.76, 7.9, 7.76, 7.9, 7.8, 7.9, 7.82, 7.9, 7.84, 7.91, 7.85]
              + [7.91, 7.88, 7.92, 7.89, 7.92, 7.9, 7.92, 7.91, 7.92, 7.92, 7.92])

# ======================= axis ticks / labels =======================
HALF_DEC_B = [0.0001, 0.000316, 0.001, 0.00316, 0.01, 0.0316, 0.1, 0.316, 1, 3.16]
HALF_DEC = [0.0001, 0.000316, 0.001, 0.00316, 0.01, 0.0316, 0.1, 0.316, 1, 3.16, 10]
DEC_B = [0.0001, 0.001, 0.01, 0.1, 1]
DEC_B_LAB = ["0.0001", "0.001", "0.01", "0.1", "1"]
DEC = [0.0001, 0.001, 0.01, 0.1, 1, 10]
DEC_LAB = ["0.0001", "0.001", "0.01", "0.1", "1", "10"]


def panel(cfg):
    x0, x1 = cfg["xdom"]
    y0, y1 = cfg["ydom"]
    xr = [cfg["xpix"][0] - OFF, cfg["xpix"][1] - OFF]
    yr = [cfg["ypix"][1] - OFF, cfg["ypix"][0] - OFF]
    if cfg["log"]:
        xs = alt.Scale(type="log", domain=[x0, x1], range=xr, nice=False)
        xc = math.sqrt(x0 * x1)
    else:
        xs = alt.Scale(type="linear", domain=[x0, x1], range=xr, nice=False, zero=False)
        xc = (x0 + x1) / 2
    ys = alt.Scale(type="linear", domain=[y0, y1], range=yr, nice=False, zero=False)

    def X(f):
        return alt.X(f, scale=xs, axis=None)

    def Y(f):
        return alt.Y(f, scale=ys, axis=None)

    rows, names, cols = [], [], []
    for name, color, vals in cfg["traces"]:
        names.append(name)
        cols.append(color)
        for t, v in zip(cfg["times"], vals):
            rows.append({"t": t, "v": v, "trace": name})
    lines = alt.Chart(pd.DataFrame(rows)).mark_line(
        strokeWidth=cfg["sw"], interpolate=cfg["interp"], opacity=cfg["op"]
    ).encode(
        x=X("t:Q"), y=Y("v:Q"),
        color=alt.Color("trace:N", scale=alt.Scale(domain=names, range=cols), legend=None),
    )
    grid_style = dict(color="#3c3c3c", strokeWidth=1, strokeDash=[2, 2])
    gx = alt.Chart(pd.DataFrame({"x": cfg["xgrid"], "a": y0, "b": y1})).mark_rule(**grid_style).encode(
        x=X("x:Q"), y=Y("a:Q"), y2="b:Q")
    gy = alt.Chart(pd.DataFrame({"y": cfg["ygrid"], "a": x0, "b": x1})).mark_rule(**grid_style).encode(
        y=Y("y:Q"), x=X("a:Q"), x2="b:Q")
    frame = alt.Chart(pd.DataFrame({"a": [x0], "b": [x1], "c": [y0], "d": [y1]})).mark_rect(
        fillOpacity=0, stroke="black", strokeWidth=1.6).encode(x=X("a:Q"), x2="b:Q", y=Y("c:Q"), y2="d:Q")
    xl = alt.Chart(pd.DataFrame({"x": cfg["xticks"], "y": y0, "lab": cfg["xlabs"]})).mark_text(
        font=SANS, fontSize=16, baseline="middle", align="center", dy=cfg["xl_dy"], color="black"
    ).encode(x=X("x:Q"), y=Y("y:Q"), text="lab:N")
    yl = alt.Chart(pd.DataFrame({"x": x0, "y": cfg["yticks"], "lab": cfg["ylabs"]})).mark_text(
        font=SANS, fontSize=16, baseline="middle", align="right", dx=cfg["yl_dx"], color="black"
    ).encode(x=X("x:Q"), y=Y("y:Q"), text="lab:N")
    xt = alt.Chart(pd.DataFrame({"x": [xc], "y": [y0], "lab": ["Time (s)"]})).mark_text(
        font=SANS, fontSize=16, baseline="middle", align="center", dy=cfg["xt_dy"], color="black"
    ).encode(x=X("x:Q"), y=Y("y:Q"), text="lab:N")
    yt = alt.Chart(pd.DataFrame({"x": [x0], "y": [(y0 + y1) / 2], "lab": ["Fluorescence (v)"]})).mark_text(
        font=SANS, fontSize=16, baseline="middle", align="center", angle=270, dy=cfg["yt_dy"], color="black"
    ).encode(x=X("x:Q"), y=Y("y:Q"), text="lab:N")
    let = alt.Chart(pd.DataFrame({"x": [x0], "y": [y1], "lab": [cfg["letter"]]})).mark_text(
        font=SANS, fontSize=18, fontWeight="bold", baseline="middle", align="center",
        dx=cfg["let"][0], dy=cfg["let"][1], color="black"
    ).encode(x=X("x:Q"), y=Y("y:Q"), text="lab:N")
    layers = [gx, gy, lines, frame, xl, yl, xt, yt, let]
    if cfg.get("ann"):
        ax, ay, at = cfg["ann"]
        layers.append(alt.Chart(pd.DataFrame({"x": ax, "y": ay, "lab": at})).mark_text(
            font=SANS, fontSize=11, baseline="middle", align="center", color="#1a1a1a"
        ).encode(x=X("x:Q"), y=Y("y:Q"), text="lab:N"))
    return alt.layer(*layers)


PA = panel(dict(
    times=TA, log=False, xdom=[0, 10], ydom=[7.495, 8.723], xpix=[718, 1092], ypix=[172, 494],
    traces=[("salmon", "#f28080", A_SALMON), ("red", "#e00000", A_RED), ("lgreen", "#80e080", A_LGREEN),
            ("green", "#00c000", A_GREEN), ("cyan", "#00e0e0", A_CYAN), ("blue", "#1010c0", A_BLUE),
            ("peri", "#7070ff", A_PERI), ("black", "#000000", A_BLACK), ("magenta", "#ff00ff", A_MAGENTA)],
    xgrid=[1, 2, 3, 4, 5, 6, 7, 8, 9], ygrid=[7.6, 7.8, 8.0, 8.2, 8.4, 8.6],
    xticks=[1, 2, 3, 4, 5, 6, 7, 8, 9, 10], xlabs=["1", "2", "3", "4", "5", "6", "7", "8", "9", "10"],
    yticks=[7.6, 7.8, 8.0, 8.2, 8.4, 8.6], ylabs=["7.6", "7.8", "8", "8.2", "8.4", "8.6"],
    xl_dy=14, yl_dx=-9, xt_dy=38, yt_dy=-48, letter="a", let=(-53, -7),
    sw=1.0, interp="linear", op=1.0))

PB = panel(dict(
    times=TB, log=True, xdom=[0.00009, 8], ydom=[1.69, 8.9], xpix=[488, 861], ypix=[583, 905],
    traces=[("g250", "#8a8a8a", B250_GRAY), ("c250", "#90d8e8", B250_LCYAN), ("t250", "#50b0a0", B250_TEAL),
            ("gr250", "#70b040", B250_GREEN), ("y250", "#b8c800", B250_YELLOW),
            ("p125", "#f08080", B125_PINK), ("r125", "#e06060", B125_RED), ("g125", "#909090", B125_GRAY),
            ("o125", "#d070c0", B125_ORCHID), ("s125", "#5560c0", B125_SLATE), ("k125", "#202020", B125_BLACK),
            ("c50", "#40c8d8", B50_CYAN), ("p50", "#a050b0", B50_PURPLE), ("g50", "#50b050", B50_GREEN),
            ("b50", "#2233bb", B50_BLUE), ("r50", "#ff0000", B50_RED)],
    xgrid=HALF_DEC_B, ygrid=[2, 3, 4, 5, 6, 7, 8],
    xticks=DEC_B, xlabs=DEC_B_LAB, yticks=[2, 3, 4, 5, 6, 7, 8], ylabs=["2", "3", "4", "5", "6", "7", "8"],
    xl_dy=16, yl_dx=-10, xt_dy=39, yt_dy=-56, letter="b", let=(-60, -8),
    ann=([1.6, 1.6, 1.6], [6.72, 4.67, 2.75], ["50 mM KCl", "125 mM KCl", "250 mM KCl"]),
    sw=1.1, interp="monotone", op=1.0))

PC = panel(dict(
    times=TC, log=True, xdom=[0.000073, 10], ydom=[1.78, 8.87], xpix=[958, 1331], ypix=[582, 905],
    traces=[("pv250", "#d090d0", C250_PV), ("o250", "#909030", C250_OLIVE), ("t250", "#40b090", C250_TEAL),
            ("y250", "#c0d000", C250_YELLOW), ("v125", "#c080d0", C125_VIOLET), ("b125", "#4060c0", C125_BLUE),
            ("k125", "#202020", C125_BLACK), ("p125", "#f07070", C125_PINK), ("g50", "#60b030", C50_GREEN),
            ("p50", "#9050b0", C50_PURPLE), ("b50", "#3050c0", C50_BLUE), ("r50", "#e84040", C50_RED),
            ("c50", "#40b8d0", C50_CYAN)],
    xgrid=HALF_DEC, ygrid=[2, 3, 4, 5, 6, 7, 8],
    xticks=DEC, xlabs=DEC_LAB, yticks=[2, 3, 4, 5, 6, 7, 8], ylabs=["2", "3", "4", "5", "6", "7", "8"],
    xl_dy=16, yl_dx=-10, xt_dy=39, yt_dy=-56, letter="c", let=(-58, -5),
    ann=([0.68, 0.68, 0.68], [7.14, 5.11, 3.05], ["50 mM Na formate", "125 mM Na formate", "250 mM Na formate"]),
    sw=1.1, interp="monotone", op=1.0))

PD = panel(dict(
    times=TD, log=True, xdom=[0.000073, 10], ydom=[6.0, 8.97], xpix=[488, 861], ypix=[993, 1316],
    traces=[("k", "#303030", D_BLACK), ("p250", "#d890c8", D250_PINK), ("g250", "#808080", D250_GRAY),
            ("g125", "#70b050", D125_GREEN), ("b125", "#6070c0", D125_BLUE), ("r125", "#f07070", D125_RED),
            ("c125", "#70c8e0", D125_CYAN), ("g50", "#60b040", D50_GREEN), ("r50", "#e83030", D50_RED),
            ("p50", "#a040a0", D50_PURPLE), ("b50", "#2040b0", D50_BLUE)],
    xgrid=HALF_DEC, ygrid=[6.5, 7, 7.5, 8, 8.5],
    xticks=DEC, xlabs=DEC_LAB, yticks=[6, 6.5, 7, 7.5, 8, 8.5], ylabs=["6", "6.5", "7", "7.5", "8", "8.5"],
    xl_dy=15, yl_dx=-10, xt_dy=40, yt_dy=-56, letter="d", let=(-60, -3),
    ann=([1.57, 1.75, 1.75], [7.86, 7.31, 6.60], ["50 mM KCl", "125 mM KCl", "250 mM KCl"]),
    sw=0.8, interp="linear", op=0.9))

PE = panel(dict(
    times=TE, log=True, xdom=[0.0000743, 10], ydom=[6.09, 9.16], xpix=[959, 1333], ypix=[995, 1318],
    traces=[("p250", "#d8a0d0", E250_PINK), ("y250", "#c8d800", E250_YELLOW), ("t250", "#40b090", E250_TEAL),
            ("k250", "#383838", E250_DARK), ("g125", "#90c890", E125_LGREEN), ("p125", "#f08080", E125_PINK),
            ("k125", "#101010", E125_BLACK), ("c125", "#70c8e0", E125_CYAN), ("g50", "#60b040", E50_GREEN),
            ("r50", "#e83030", E50_RED), ("b50", "#2040b0", E50_BLUE), ("p50", "#a040a0", E50_PURPLE)],
    xgrid=HALF_DEC, ygrid=[6.5, 7, 7.5, 8, 8.5, 9],
    xticks=DEC, xlabs=DEC_LAB, yticks=[6.5, 7, 7.5, 8, 8.5, 9], ylabs=["6.5", "7", "7.5", "8", "8.5", "9"],
    xl_dy=14.5, yl_dx=-8.5, xt_dy=38, yt_dy=-56, letter="e", let=(-59, -5),
    ann=([0.89, 1.08, 1.08], [8.147, 7.054, 6.883], ["50 mM Na formate", "125 mM Na formate", "250 mM Na formate"]),
    sw=0.8, interp="linear", op=0.9))

# ======================= page text =======================
LOW = "abcdefghijklmnopqrstuvwxyz"
UPP = "ABCDEFGHIJKLMNOPQRSTUVWXYZ"


def metrics(low, upp, digit, extra):
    d = dict(zip(LOW, low))
    d.update(zip(UPP, upp))
    d.update({c: digit for c in "0123456789"})
    d.update(extra)
    return d


HELV = metrics([556, 556, 500, 556, 556, 278, 556, 556, 222, 222, 500, 222, 833, 556, 556, 556, 556, 333, 500, 278, 556, 500, 722, 500, 500, 500],
               [667, 667, 722, 722, 667, 611, 778, 722, 278, 500, 667, 556, 833, 722, 778, 667, 778, 722, 667, 611, 722, 667, 944, 667, 667, 611],
               556, {" ": 278, ".": 278, ",": 278, "(": 333, ")": 333, "-": 333, "–": 556, "|": 260, "=": 584,
                     "‘": 222, "’": 222, ";": 278, ":": 278, "/": 278, "\u2009": 170})
HELVB = metrics([556, 611, 556, 611, 556, 333, 611, 611, 278, 278, 556, 278, 889, 611, 611, 611, 611, 389, 556, 333, 611, 556, 778, 556, 556, 500],
                [722, 722, 722, 722, 667, 611, 778, 722, 278, 556, 722, 611, 833, 722, 778, 667, 778, 722, 667, 611, 722, 667, 944, 667, 667, 611],
                556, {" ": 278, ".": 278, ",": 278, "(": 333, ")": 333, "-": 333, "–": 556, "|": 280, "=": 584,
                      "‘": 278, "’": 278, ";": 333, ":": 333, "/": 278, "\u2009": 170})
TIMES = metrics([444, 500, 444, 500, 444, 333, 500, 500, 278, 278, 500, 278, 778, 500, 500, 500, 500, 333, 389, 278, 500, 500, 722, 500, 500, 444],
                [722, 667, 667, 722, 611, 556, 722, 722, 333, 389, 722, 611, 889, 722, 722, 556, 722, 667, 556, 611, 722, 722, 944, 722, 722, 611],
                500, {" ": 250, ".": 250, ",": 250, "(": 333, ")": 333, "-": 333, "–": 500, "‘": 333, "’": 333,
                      ";": 278, ":": 278, "/": 278})


def tw(text, table, size):
    return sum(table.get(c, 500) for c in text) * size / 1000.0


def parse(line):
    words, cur, buf, bold, link = [], [], "", False, False
    for ch in line:
        if ch in "^~ ":
            if buf:
                cur.append((buf, bold, link))
                buf = ""
            if ch == "^":
                bold = not bold
            elif ch == "~":
                link = not link
            elif cur:
                words.append(cur)
                cur = []
        else:
            buf += ch
    if buf:
        cur.append((buf, bold, link))
    if cur:
        words.append(cur)
    return words


PAGE = []


def put(x, y, text, style):
    PAGE.append({"x": x - OFF, "y": y - OFF, "text": text, "style": style})


def set_line(line, x0, x1, base, kind, size, justify):
    reg, bol = (TIMES, TIMES) if kind == "serif" else (HELV, HELVB)
    words = parse(line)
    ws = [sum(tw(t, bol if b else reg, size) for t, b, l in w) for w in words]
    gap = (x1 - x0 - sum(ws)) / (len(words) - 1) if (justify and len(words) > 1) else tw(" ", reg, size)
    x = x0
    for w, wd in zip(words, ws):
        xx = x
        for t, b, l in w:
            put(xx, base, t, kind + ("_b" if b else "") + ("_l" if l else ""))
            xx += tw(t, bol if b else reg, size)
        x += wd + gap


CAPTION = [
    "^Fig. 6 | Time evolution of fluorescence of liposomes. a–e^, Liposomes were loaded with 10 mM (^a–c^) and 5 mM",
    "(^d–e^) calcein under isosmotic conditions (^a^) and under osmotic upshift with 50 mM, 125 and 250 mM of KCl (^b,d^)",
    "and Na formate (^c,e^). The graphs were generated by the software Pro Data SX. The different lines represent",
    "individual experiments (N = 9 for each panel). The average of the traces was later normalized to the fluorescence",
    "intensity at time ‘0’ and converted to relative volume changes over time, as shown in Part 6 of the Procedure.",
]
CAP_BASE = [1398, 1420, 1442, 1464, 1486]
BODY = [
    "Discard the assay buffer in syringe B, and load it with 100 mM KPi pH 7.0, supplemented with the",
    "desired osmolyte (KCl in Fig. ~6b~ or Na formate in Fig. ~6c~). Press ‘Drive’ five times for the optical",
    "cell to equilibrate, and then press ‘Acquire’.",
    "The fluorescence intensity should decrease when the vesicles shrink as a result of",
    "the osmotic upshift (Fig. ~6b,c~). For permeable osmolytes (i.e., formic acid), a subsequent (partial)",
    "recovery upon influx of the osmolyte into the vesicles is observed (Fig. ~6c~). The extent of the",
    "recovery is dependent of the self-quenching concentration of calcein; with large osmotic upshifts",
    "(e.g., 250 mM Na formate) the internal calcein reaches levels where the (de)quenching is less",
    "sensitive to concentration changes and the recovery phase is small (Fig. ~6c~). The data analysis takes",
]
BODY_BASE = [1576, 1604.5, 1633, 1661.5, 1690, 1718.5, 1747, 1775.5, 1804]
BODY_SIZE = 22.5
CAP_SIZE = 18

for i, (ln, yb) in enumerate(zip(CAPTION, CAP_BASE)):
    set_line(ln, 404, 1361, yb, "sans", CAP_SIZE, i < len(CAPTION) - 1)

put(405, BODY_BASE[0], "38", "serif")
for i, (ln, yb) in enumerate(zip(BODY, BODY_BASE)):
    if i == 3:
        put(448, yb, "▲CRITICAL STEP", "crit")
        set_line(ln, 617, 1361, yb, "serif", BODY_SIZE, True)
    else:
        set_line(ln, 448, 1361, yb, "serif", BODY_SIZE, i != 2)

# header
put(145, 107, "NATURE PROTOCOLS", "hdr_b")
put(1339, 115, "PROTOCOL", "hdr_l")

# footer
FOOT = [("NATURE PROTOCOLS", "foot_b"),
        ("\u2009|\u2009VOL 17\u2009|\u2009NOVEMBER 2022\u2009|\u20092620–2646\u2009|\u2009", "foot_g"),
        ("www.nature.com/nprot", "foot_l")]
fx = 127
for txt, st in FOOT:
    put(fx, 1861, txt, st)
    fx += tw(txt, HELVB if st == "foot_b" else HELV, 15)
put(1360, 1861, "2635", "foot_n")

STYLES = {
    "sans": dict(font=SANS, fontSize=CAP_SIZE, color="#231f20"),
    "sans_b": dict(font=SANS, fontSize=CAP_SIZE, fontWeight="bold", color="#231f20"),
    "serif": dict(font=SERIF, fontSize=BODY_SIZE, color="#231f20"),
    "serif_l": dict(font=SERIF, fontSize=BODY_SIZE, color="#3d6eb4"),
    "crit": dict(font=SANS, fontSize=19, fontWeight="bold", color="#952a8c"),
    "hdr_b": dict(font=HEAD, fontSize=28, fontWeight="bold", color="white"),
    "hdr_l": dict(font=HEAD, fontSize=46, fontWeight=300, color="white", align="right"),
    "foot_b": dict(font=SANS, fontSize=15, fontWeight="bold", color="#4f2d7f"),
    "foot_g": dict(font=SANS, fontSize=15, color="#58595b"),
    "foot_l": dict(font=SANS, fontSize=15, color="#3d6eb4"),
    "foot_n": dict(font=SANS, fontSize=15, fontWeight="bold", color="#231f20", align="right"),
}

page_df = pd.DataFrame(PAGE)
text_layers = []
for st, kw in STYLES.items():
    sub = page_df[page_df["style"] == st]
    if len(sub) == 0:
        continue
    kw = dict(kw)
    kw.setdefault("align", "left")
    text_layers.append(alt.Chart(sub).mark_text(baseline="alphabetic", **kw).encode(
        x=alt.X("x:Q", scale=None, axis=None), y=alt.Y("y:Q", scale=None, axis=None), text="text:N"))

header_bar = alt.Chart(pd.DataFrame({"a": [0]})).mark_rect(color="#4f2d78").encode(
    x=alt.value(127 - OFF), x2=alt.value(1360 - OFF), y=alt.value(68 - OFF), y2=alt.value(122.5 - OFF))

chart = alt.layer(header_bar, *text_layers, PA, PB, PC, PD, PE).resolve_scale(
    x="independent", y="independent", color="independent"
).properties(
    width=1380, height=1890, padding=0, autosize=alt.AutoSizeParams(type="none"), background="white"
).configure_view(strokeWidth=0)

chart.save("out.html", embed_options={"renderer": "svg", "actions": False})
